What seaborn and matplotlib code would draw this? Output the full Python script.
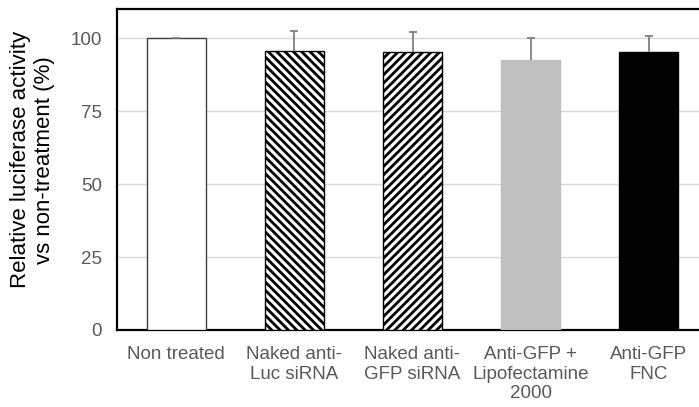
import matplotlib
matplotlib.use("Agg")
import matplotlib.pyplot as plt
import seaborn as sns
import pandas as pd
import numpy as np

categories = ["Non treated", "Naked anti-\nLuc siRNA", "Naked anti-\nGFP siRNA",
              "Anti-GFP +\nLipofectamine\n2000", "Anti-GFP\nFNC"]
values = [100.0, 95.5, 95.2, 92.6, 95.3]
errors = [0.0, 6.9, 6.8, 7.4, 5.5]
yticks = [0, 25, 50, 75, 100]

sns.set_theme(style="white")
plt.rcParams['font.family'] = ['Liberation Sans', 'DejaVu Sans']
plt.rcParams['hatch.linewidth'] = 2.0
plt.rcParams['hatch.color'] = 'black'

df = pd.DataFrame({"cat": categories, "val": values})

fig = plt.figure(figsize=(6.99, 4.07), dpi=100)
ax = fig.add_axes([117/699, 1 - 330/407, (708-117)/699, (330-9)/407])

sns.barplot(data=df, x="cat", y="val", ax=ax, width=0.5, errorbar=None,
            color="white", zorder=3)

faces = ["white", "white", "white", "#bfbfbf", "black"]
edges = ["#404040", "black", "black", "#bfbfbf", "black"]
hatches = [None, "\\\\\\\\", "////", None, None]
for p, fc, ec, h in zip(ax.patches, faces, edges, hatches):
    p.set_facecolor(fc)
    p.set_edgecolor(ec)
    p.set_linewidth(1.0)
    if h:
        p.set_hatch(h)

x = np.arange(len(categories))
eb = ax.errorbar(x, values, yerr=[np.zeros(len(errors)), errors], fmt="none",
                 ecolor="#808080", elinewidth=1.3, capsize=3, capthick=1.3, zorder=4)
eb[1][0].set_visible(False)

ax.set_ylim(0, 110)
ax.set_xlim(-0.5, 4.5)
ax.set_yticks(yticks)
ax.yaxis.grid(True, color="#d9d9d9", linewidth=1.0, zorder=0)
ax.set_axisbelow(True)
ax.tick_params(axis="both", length=0, labelsize=13.5, labelcolor="#595959")
ax.tick_params(axis="y", pad=11)
ax.tick_params(axis="x", pad=11.5)
for lbl in ax.get_xticklabels():
    lbl.set_linespacing(1.2)
ax.set_xlabel("")
ax.set_ylabel("Relative luciferase activity\nvs non-treatment (%)", fontsize=16,
              color="black")
ax.yaxis.set_label_coords(-0.105, 0.53)
for s in ["left", "bottom", "top", "right"]:
    ax.spines[s].set_color("black")
    ax.spines[s].set_linewidth(1.6)

fig.savefig("out.png", dpi=100)
